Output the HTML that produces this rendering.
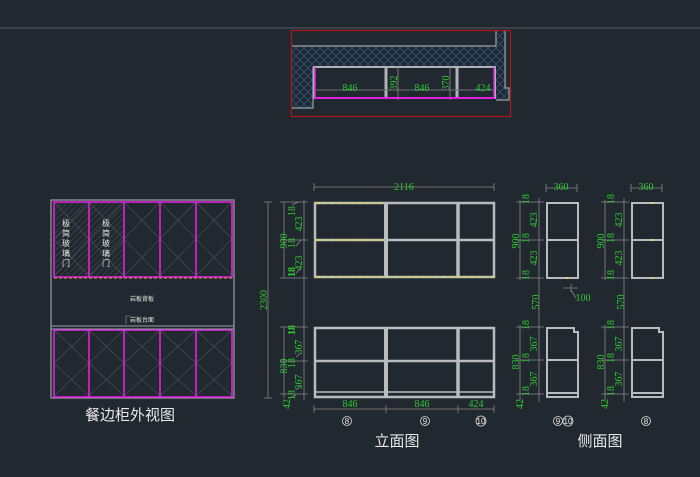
<!DOCTYPE html>
<html><head><meta charset="utf-8"><style>
html,body{margin:0;padding:0;background:#212830;}
svg{display:block;}
.g{fill:#2ecc2e;font-family:"Liberation Serif",serif;font-size:10px;}
.w{fill:#e8e8e8;font-family:"Liberation Sans","Noto Sans CJK SC",sans-serif;}
</style></head><body>
<svg width="700" height="477" viewBox="0 0 700 477" xmlns="http://www.w3.org/2000/svg">
<defs>
<pattern id="hx" width="8" height="8" patternUnits="userSpaceOnUse">
<path d="M0 0L8 8M8 0L0 8" stroke="#2a5078" stroke-width="0.9"/>
</pattern>
<pattern id="dg" width="6" height="6" patternUnits="userSpaceOnUse">
<path d="M0 6L6 0" stroke="#454b53" stroke-width="0.6"/>
</pattern>
</defs>
<rect width="700" height="477" fill="#212830"/>
<line x1="0" y1="28" x2="700" y2="28" stroke="#3b424c" stroke-width="2"/>

<!-- plan -->
<path d="M292 46H496V31H507V88H509V100H496V98H313V108H292Z" fill="url(#hx)"/>
<rect x="313" y="67" width="183" height="33" fill="#212830"/>
<path d="M292 46H496V31" fill="none" stroke="#9aa0a6" stroke-width="1.2"/>
<path d="M505 31V88H509V100H496" fill="none" stroke="#9aa0a6" stroke-width="1.2"/>
<path d="M292 108H313V67" fill="none" stroke="#9aa0a6" stroke-width="1.2"/>
<rect x="314" y="67" width="181" height="31" fill="none" stroke="#b0b4b8" stroke-width="2"/>
<line x1="386" y1="67" x2="386" y2="98" stroke="#b0b4b8" stroke-width="3"/>
<line x1="457" y1="67" x2="457" y2="98" stroke="#b0b4b8" stroke-width="3"/>
<line x1="314" y1="90" x2="495" y2="90" stroke="#6a6f75"/>
<line x1="398" y1="67" x2="398" y2="100" stroke="#777"/>
<line x1="450" y1="67" x2="450" y2="100" stroke="#777"/>
<line x1="314" y1="98" x2="495" y2="98" stroke="#e020e0" stroke-width="2"/>
<line x1="315" y1="67" x2="315" y2="98" stroke="#e020e0" stroke-width="1.5"/>
<line x1="494" y1="67" x2="494" y2="98" stroke="#e020e0" stroke-width="1.5"/>
<text class="g" x="350" y="91" text-anchor="middle">846</text>
<text class="g" x="422" y="91" text-anchor="middle">846</text>
<text class="g" x="483" y="91" text-anchor="middle">424</text>
<text class="g" transform="translate(397,83) rotate(-90)" text-anchor="middle">392</text>
<text class="g" transform="translate(449,83) rotate(-90)" text-anchor="middle">370</text>
<rect x="291.5" y="30.5" width="219" height="86" fill="none" stroke="#b01818" stroke-width="1.2"/>

<!-- external view -->
<rect x="51" y="200" width="183" height="198" fill="none" stroke="#9aa0a6" stroke-width="1.2"/>
<rect x="54" y="202" width="70" height="74" fill="url(#dg)"/>
<g stroke="#4e545b" stroke-width="0.6" fill="none">
<path d="M54 202L89 239L54 276M89 202L54 239L89 276"/>
<path d="M89 202L124 239L89 276M124 202L89 239L124 276"/>
<path d="M124 202L160 239L124 276M160 202L124 239L160 276"/>
<path d="M160 202L196 239L160 276M196 202L160 239L196 276"/>
<path d="M196 202L232 239L196 276M232 202L196 239L232 276"/>
<path d="M54 330L89 363L54 396M89 330L54 363L89 396"/>
<path d="M89 330L124 363L89 396M124 330L89 363L124 396"/>
<path d="M124 330L160 363L124 396M160 330L124 363L160 396"/>
<path d="M160 330L196 363L160 396M196 330L160 363L196 396"/>
<path d="M196 330L232 363L196 396M232 330L196 363L232 396"/>
</g>
<g stroke="#e020e0" stroke-width="1.6" fill="none">
<rect x="54" y="202" width="178" height="75"/>
<line x1="89" y1="202" x2="89" y2="277"/><line x1="124" y1="202" x2="124" y2="277"/>
<line x1="160" y1="202" x2="160" y2="277"/><line x1="196" y1="202" x2="196" y2="277"/>
<rect x="54" y="330" width="178" height="67"/>
<line x1="89" y1="330" x2="89" y2="397"/><line x1="124" y1="330" x2="124" y2="397"/>
<line x1="160" y1="330" x2="160" y2="397"/><line x1="196" y1="330" x2="196" y2="397"/>
</g>
<line x1="54" y1="278" x2="232" y2="278" stroke="#d0a040" stroke-width="1" stroke-dasharray="3 2"/>
<line x1="51" y1="326" x2="234" y2="326" stroke="#9aa0a6"/>
<line x1="51" y1="329" x2="234" y2="329" stroke="#9aa0a6"/>
<path d="M126 324V316H130" stroke="#9aa0a6" fill="none" stroke-width="0.6"/>
<g class="w" font-size="8" text-anchor="middle">
<text x="66" y="226">极</text><text x="66" y="236">简</text><text x="66" y="246">玻</text><text x="66" y="256">璃</text><text x="66" y="266">门</text>
<text x="106" y="226">极</text><text x="106" y="236">简</text><text x="106" y="246">玻</text><text x="106" y="256">璃</text><text x="106" y="266">门</text>
</g>
<text class="w" x="142" y="301" font-size="6" text-anchor="middle">岩板背板</text>
<text class="w" x="142" y="322" font-size="6" text-anchor="middle">岩板台面</text>
<text class="w" x="130" y="420" font-size="15" text-anchor="middle">餐边柜外视图</text>

<!-- elevation -->
<g stroke="#b8bcc0" stroke-width="2.5" fill="none">
<rect x="315" y="203" width="179" height="74"/>
<line x1="386" y1="203" x2="386" y2="277" stroke-width="4"/>
<line x1="458" y1="203" x2="458" y2="277" stroke-width="3.5"/>
<line x1="315" y1="240" x2="494" y2="240"/>
<rect x="315" y="328" width="179" height="69"/>
<line x1="386" y1="328" x2="386" y2="397" stroke-width="4"/>
<line x1="458" y1="328" x2="458" y2="397" stroke-width="3.5"/>
<line x1="315" y1="361" x2="494" y2="361"/>
<line x1="315" y1="392" x2="494" y2="392" stroke-width="1.5"/>
</g>
<g stroke="#e8e040" stroke-width="1.3" stroke-dasharray="4 3">
<line x1="316" y1="203" x2="385" y2="203"/><line x1="316" y1="240" x2="385" y2="240"/>
<line x1="316" y1="277" x2="494" y2="277"/>
</g>
<g stroke="#888" stroke-width="0.8" fill="none">
<line x1="314" y1="187" x2="494" y2="187"/><line x1="314" y1="183" x2="314" y2="191"/><line x1="494" y1="183" x2="494" y2="191"/>
<line x1="314" y1="409" x2="494" y2="409"/>
<line x1="314" y1="405" x2="314" y2="413"/><line x1="386" y1="405" x2="386" y2="413"/><line x1="458" y1="405" x2="458" y2="413"/><line x1="494" y1="405" x2="494" y2="413"/>
<line x1="268" y1="202" x2="268" y2="398"/><line x1="264" y1="202" x2="272" y2="202"/><line x1="264" y1="398" x2="272" y2="398"/>
<line x1="284" y1="202" x2="284" y2="278"/><line x1="284" y1="327" x2="284" y2="398"/>
<line x1="304" y1="200" x2="304" y2="400"/>
<path d="M280 202H308M280 240H308M280 278H308M280 327H308M280 361H308M280 394H308"/>
<path d="M292 205l6-3M296 246l5-6M296 273l5-5M296 357l5-4M296 390l5-4M290 398l6-3"/>
</g>
<text class="g" x="404" y="190" text-anchor="middle">2116</text>
<text class="g" x="350" y="407" text-anchor="middle">846</text>
<text class="g" x="422" y="407" text-anchor="middle">846</text>
<text class="g" x="476" y="407" text-anchor="middle">424</text>
<g class="g" text-anchor="middle">
<text transform="translate(267,300) rotate(-90)">2300</text>
<text transform="translate(287,241) rotate(-90)">900</text>
<text transform="translate(295,211) rotate(-90)">18</text>
<text transform="translate(302,224) rotate(-90)">423</text>
<text transform="translate(295,243) rotate(-90)">18</text>
<text transform="translate(302,263) rotate(-90)">423</text>
<text transform="translate(295,272) rotate(-90)" font-weight="bold">18</text>
<text transform="translate(295,330) rotate(-90)" font-weight="bold">18</text>
<text transform="translate(287,366) rotate(-90)">830</text>
<text transform="translate(302,347) rotate(-90)">367</text>
<text transform="translate(295,363) rotate(-90)">18</text>
<text transform="translate(302,382) rotate(-90)">367</text>
<text transform="translate(295,395) rotate(-90)">18</text>
<text transform="translate(290,404) rotate(-90)">42</text>
</g>
<g fill="none" stroke="#ddd" stroke-width="0.8">
<circle cx="347" cy="421" r="4.5"/><circle cx="425" cy="421" r="4.5"/><circle cx="481" cy="421" r="5"/>
<circle cx="558" cy="421" r="4.5"/><circle cx="568" cy="421" r="5"/><circle cx="646" cy="421" r="4.5"/>
</g>
<g class="w" font-size="8" text-anchor="middle">
<text x="347" y="424">8</text><text x="425" y="424">9</text><text x="481" y="424">10</text>
<text x="558" y="424">9</text><text x="568" y="424">10</text><text x="646" y="424">8</text>
</g>
<text class="w" x="397" y="446" font-size="15" text-anchor="middle">立面图</text>
<text class="w" x="600" y="446" font-size="15" text-anchor="middle">侧面图</text>

<!-- side views -->
<g id="sv">
<g stroke="#b8bcc0" stroke-width="2" fill="none">
<rect x="547" y="203" width="31" height="75"/>
<line x1="547" y1="240" x2="578" y2="240"/>
<path d="M547 397V328H574V332H578V397Z"/>
<line x1="547" y1="360" x2="578" y2="360"/>
<line x1="547" y1="393" x2="578" y2="393"/>
</g>
<g stroke="#888" stroke-width="0.8" fill="none">
<line x1="546" y1="188" x2="577" y2="188"/><line x1="546" y1="184" x2="546" y2="192"/><line x1="577" y1="184" x2="577" y2="192"/>
<line x1="520" y1="200" x2="520" y2="280"/><line x1="520" y1="325" x2="520" y2="400"/>
<line x1="539" y1="198" x2="539" y2="402"/>
<path d="M516 202H544M516 240H544M516 278H544M516 327H544M516 360H544M516 394H544"/>
</g>
<g class="g" text-anchor="middle">
<text x="561" y="190">360</text>
<text transform="translate(519,241) rotate(-90)">900</text>
<text transform="translate(529,199) rotate(-90)">18</text>
<text transform="translate(537,220) rotate(-90)">423</text>
<text transform="translate(529,238) rotate(-90)">18</text>
<text transform="translate(537,258) rotate(-90)">423</text>
<text transform="translate(529,275) rotate(-90)">18</text>
<text transform="translate(539,302) rotate(-90)">570</text>
<text transform="translate(529,325) rotate(-90)">18</text>
<text transform="translate(519,362) rotate(-90)">830</text>
<text transform="translate(537,344) rotate(-90)">367</text>
<text transform="translate(529,358) rotate(-90)">18</text>
<text transform="translate(537,379) rotate(-90)">367</text>
<text transform="translate(529,391) rotate(-90)">18</text>
<text transform="translate(523,404) rotate(-90)">42</text>
</g>
</g>
<use href="#sv" transform="translate(85,0)"/>
<rect x="566" y="277" width="2" height="2" fill="#e8e040"/>
<rect x="651" y="202" width="2" height="2" fill="#e8e040"/>
<rect x="651" y="239" width="2" height="2" fill="#e8e040"/>
<rect x="651" y="277" width="2" height="2" fill="#e8e040"/>
<path d="M563 288H578M571 284V292M571 290L576 298" stroke="#888" stroke-width="0.8" fill="none"/>
<text class="g" x="583" y="301" text-anchor="middle">100</text>
</svg>
</body></html>
